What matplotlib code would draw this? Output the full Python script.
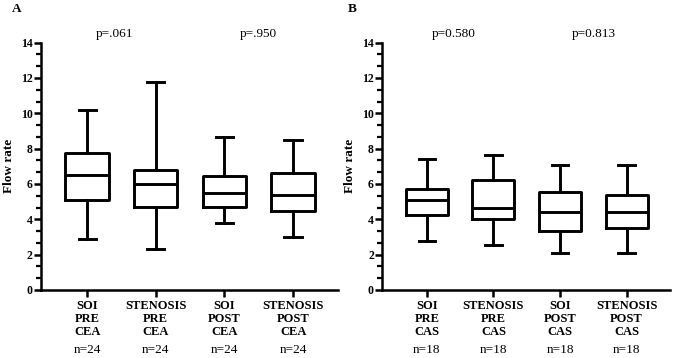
import matplotlib.pyplot as plt
from matplotlib.ticker import MultipleLocator, AutoMinorLocator

plt.rcParams['font.family'] = ['Liberation Serif', 'DejaVu Serif']

# panel A (CEA)
cea_labels = ['SOI\nPRE\nCEA', 'STENOSIS\nPRE\nCEA', 'SOI\nPOST\nCEA', 'STENOSIS\nPOST\nCEA']
cea_n = ['n=24', 'n=24', 'n=24', 'n=24']
cea_low = [2.89, 2.30, 3.81, 2.98]
cea_q1 = [5.09, 4.68, 4.68, 4.49]
cea_med = [6.51, 6.00, 5.51, 5.36]
cea_q3 = [7.74, 6.79, 6.45, 6.64]
cea_high = [10.19, 11.79, 8.66, 8.47]
cea_p = ['p=.061', 'p=.950']

# panel B (CAS)
cas_labels = ['SOI\nPRE\nCAS', 'STENOSIS\nPRE\nCAS', 'SOI\nPOST\nCAS', 'STENOSIS\nPOST\nCAS']
cas_n = ['n=18', 'n=18', 'n=18', 'n=18']
cas_low = [2.77, 2.55, 2.11, 2.11]
cas_q1 = [4.25, 4.02, 3.34, 3.49]
cas_med = [5.09, 4.62, 4.40, 4.43]
cas_q3 = [5.72, 6.23, 5.53, 5.38]
cas_high = [7.40, 7.66, 7.09, 7.09]
cas_p = ['p=0.580', 'p=0.813']

fig = plt.figure(figsize=(6.85, 3.58), dpi=100)
axA = fig.add_axes([0.060, 0.19, 0.433, 0.691])
axB = fig.add_axes([0.558, 0.19, 0.420, 0.691])


def draw_panel(ax, labels, ns, low, q1, med, q3, high, pvals, letter, letter_x):
    stats = []
    for i in range(len(labels)):
        stats.append({'whislo': low[i], 'q1': q1[i], 'med': med[i],
                      'q3': q3[i], 'whishi': high[i], 'fliers': []})
    lw = 2.1
    ax.bxp(stats, positions=[1, 2, 3, 4], widths=0.63, showfliers=False,
           boxprops=dict(color='black', linewidth=lw),
           whiskerprops=dict(color='black', linewidth=lw),
           capprops=dict(color='black', linewidth=lw),
           medianprops=dict(color='black', linewidth=lw),
           capwidths=0.25)
    ax.set_xlim(0.33, 4.65)
    ax.set_ylim(0, 14)
    ax.yaxis.set_major_locator(MultipleLocator(2))
    ax.yaxis.set_minor_locator(AutoMinorLocator(3))
    ax.spines['top'].set_visible(False)
    ax.spines['right'].set_visible(False)
    ax.spines['left'].set_linewidth(1.8)
    ax.spines['bottom'].set_linewidth(1.8)
    ax.tick_params(axis='y', which='major', length=5, width=1.8, labelsize=8.5, pad=1)
    ax.tick_params(axis='y', which='minor', length=3.5, width=1.6)
    ax.tick_params(axis='x', length=5, width=1.8, labelsize=9, pad=2.5)
    for t in ax.get_yticklabels():
        t.set_fontweight('bold')
    ax.set_xticks([1, 2, 3, 4])
    ax.set_xticklabels(labels, fontweight='bold', linespacing=1.1)
    for i, n in enumerate(ns):
        ax.annotate(n, xy=(i + 1, 0), xycoords=('data', 'axes fraction'),
                    xytext=(0, -43), textcoords='offset points',
                    ha='center', va='center', fontsize=9.5)
    ax.set_ylabel('Flow rate', fontweight='bold', fontsize=9.5, labelpad=4)
    ax.text(1.4, 14.5, pvals[0], ha='center', va='center', fontsize=9.5)
    ax.text(3.5, 14.5, pvals[1], ha='center', va='center', fontsize=9.5)
    fig.text(letter_x, 0.975, letter, fontweight='bold', fontsize=9.5, va='center')


draw_panel(axA, cea_labels, cea_n, cea_low, cea_q1, cea_med, cea_q3, cea_high,
           cea_p, 'A', 0.018)
draw_panel(axB, cas_labels, cas_n, cas_low, cas_q1, cas_med, cas_q3, cas_high,
           cas_p, 'B', 0.508)

fig.savefig('out.png', dpi=100)
